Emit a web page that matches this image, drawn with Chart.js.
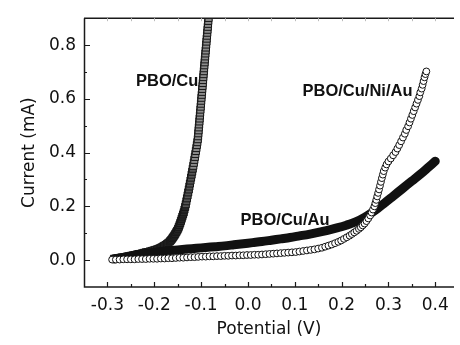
<!DOCTYPE html>
<html>
<head>
<meta charset="utf-8">
<script src="https://cdn.jsdelivr.net/npm/chart.js@4"></script>
<style>
  html, body { margin: 0; padding: 0; background: #fff; }
  #wrap { width: 460px; height: 345px; }
</style>
</head>
<body>
<div id="wrap"><canvas id="chart" width="460" height="345"></canvas></div>
<script>
// Axis ticks
const xTicks = [-0.3, -0.2, -0.1, 0.0, 0.1, 0.2, 0.3, 0.4];
const xMinor = [-0.25, -0.15, -0.05, 0.05, 0.15, 0.25, 0.35];
const yTicks = [0.0, 0.2, 0.4, 0.6, 0.8];
const yMinor = [0.1, 0.3, 0.5, 0.7];

// PBO/Cu (open squares)
const cuV = [
  -0.286, -0.282, -0.278, -0.274, -0.270, -0.266, -0.262, -0.258, -0.254, -0.250,
  -0.246, -0.242, -0.238, -0.234, -0.230, -0.226, -0.222, -0.218, -0.214, -0.210,
  -0.206, -0.202, -0.198, -0.194, -0.191, -0.188, -0.185, -0.182, -0.179, -0.176,
  -0.173, -0.170, -0.167, -0.165, -0.163, -0.161, -0.159, -0.157, -0.155, -0.153,
  -0.151, -0.149, -0.1475, -0.146, -0.1445, -0.143, -0.1415, -0.140, -0.1385, -0.137,
  -0.1355, -0.134, -0.1327, -0.1314, -0.1301, -0.1288, -0.1275, -0.1262, -0.1250, -0.1238,
  -0.1226, -0.1214, -0.1202, -0.1190, -0.1178, -0.1166, -0.1155, -0.1144, -0.1133, -0.1122,
  -0.1111, -0.1100, -0.1090, -0.1080, -0.1070, -0.1064, -0.1059, -0.1053, -0.1048, -0.1042,
  -0.1036, -0.1031, -0.1025, -0.1020, -0.1014, -0.1008, -0.1003, -0.0997, -0.0992, -0.0986,
  -0.0980, -0.0975, -0.0969, -0.0964, -0.0958, -0.0952, -0.0947, -0.0941, -0.0936, -0.0930,
  -0.0924, -0.0919, -0.0913, -0.0908, -0.0902, -0.0896, -0.0891, -0.0885, -0.0880, -0.0874,
  -0.0868, -0.0863, -0.0857, -0.0852, -0.0846, -0.0840, -0.0835
];
const cuI = [
  0.005, 0.006, 0.007, 0.008, 0.009, 0.010, 0.011, 0.013, 0.014, 0.016,
  0.017, 0.019, 0.020, 0.022, 0.023, 0.025, 0.027, 0.029, 0.030, 0.032,
  0.034, 0.036, 0.038, 0.040, 0.042, 0.044, 0.047, 0.050, 0.053, 0.056,
  0.060, 0.064, 0.069, 0.073, 0.077, 0.082, 0.087, 0.092, 0.098, 0.104,
  0.110, 0.117, 0.124, 0.131, 0.138, 0.146, 0.154, 0.162, 0.170, 0.178,
  0.188, 0.198, 0.208, 0.219, 0.230, 0.241, 0.252, 0.263, 0.274, 0.285,
  0.296, 0.307, 0.318, 0.329, 0.340, 0.351, 0.362, 0.373, 0.384, 0.395,
  0.406, 0.417, 0.428, 0.439, 0.450, 0.461, 0.472, 0.483, 0.494, 0.505,
  0.516, 0.527, 0.538, 0.549, 0.560, 0.571, 0.582, 0.593, 0.604, 0.615,
  0.626, 0.637, 0.648, 0.659, 0.670, 0.681, 0.692, 0.703, 0.714, 0.725,
  0.736, 0.747, 0.758, 0.769, 0.780, 0.791, 0.802, 0.813, 0.824, 0.835,
  0.846, 0.857, 0.868, 0.879, 0.890, 0.901, 0.912
];

// PBO/Cu/Au (solid dots, drawn as a thick band)
const cuAuV = [
  -0.286, -0.27, -0.25, -0.23, -0.21, -0.19, -0.17, -0.15, -0.13, -0.11,
  -0.09, -0.07, -0.05, -0.03, -0.01, 0.01, 0.03, 0.05, 0.07, 0.09,
  0.11, 0.13, 0.15, 0.17, 0.19, 0.21, 0.23, 0.25, 0.27, 0.29,
  0.31, 0.33, 0.35, 0.37, 0.385, 0.40
];
const cuAuI = [
  0.004, 0.009, 0.016, 0.022, 0.027, 0.031, 0.035, 0.038, 0.041, 0.044,
  0.047, 0.050, 0.053, 0.057, 0.061, 0.065, 0.069, 0.074, 0.079, 0.084,
  0.090, 0.096, 0.103, 0.111, 0.120, 0.130, 0.142, 0.160, 0.183, 0.210,
  0.238, 0.266, 0.294, 0.322, 0.345, 0.368
];

// PBO/Cu/Ni/Au (open circles)
const niAuV = [
  -0.290, -0.282, -0.274, -0.266, -0.258, -0.250, -0.242, -0.234, -0.226, -0.218,
  -0.210, -0.202, -0.194, -0.186, -0.178, -0.170, -0.162, -0.154, -0.146, -0.138,
  -0.130, -0.122, -0.114, -0.106, -0.098, -0.090, -0.082, -0.074, -0.066, -0.058,
  -0.050, -0.042, -0.034, -0.026, -0.018, -0.010, -0.002, 0.006, 0.014, 0.022,
  0.030, 0.038, 0.046, 0.054, 0.062, 0.070, 0.078, 0.086, 0.094, 0.102,
  0.110, 0.118, 0.126, 0.134, 0.142, 0.150, 0.158, 0.165, 0.172, 0.179,
  0.186, 0.193, 0.199, 0.205, 0.211, 0.217, 0.222, 0.227, 0.232, 0.237,
  0.241, 0.245, 0.249, 0.253, 0.257, 0.261, 0.264, 0.267, 0.270, 0.272,
  0.274, 0.276, 0.278, 0.280, 0.282, 0.284, 0.286, 0.288, 0.290, 0.293,
  0.296, 0.300, 0.305, 0.310, 0.315, 0.319, 0.323, 0.327, 0.331, 0.335,
  0.338, 0.342, 0.345, 0.348, 0.351, 0.354, 0.357, 0.360, 0.363, 0.366,
  0.368, 0.371, 0.373, 0.375, 0.377, 0.379, 0.381
];
const niAuI = [
  0.002, 0.002, 0.002, 0.003, 0.003, 0.003, 0.003, 0.004, 0.004, 0.004,
  0.005, 0.005, 0.005, 0.006, 0.006, 0.007, 0.007, 0.008, 0.009, 0.009,
  0.010, 0.011, 0.011, 0.012, 0.013, 0.013, 0.014, 0.014, 0.015, 0.015,
  0.016, 0.016, 0.017, 0.017, 0.018, 0.018, 0.019, 0.019, 0.020, 0.020,
  0.021, 0.022, 0.023, 0.024, 0.025, 0.026, 0.027, 0.028, 0.029, 0.030,
  0.032, 0.034, 0.036, 0.038, 0.040, 0.043, 0.046, 0.050, 0.054, 0.058,
  0.063, 0.068, 0.073, 0.079, 0.085, 0.091, 0.097, 0.103, 0.109, 0.116,
  0.122, 0.129, 0.136, 0.145, 0.155, 0.166, 0.177, 0.188, 0.200, 0.212,
  0.224, 0.237, 0.250, 0.263, 0.277, 0.291, 0.305, 0.318, 0.331, 0.344,
  0.356, 0.367, 0.378, 0.390, 0.402, 0.415, 0.428, 0.442, 0.456, 0.470,
  0.484, 0.498, 0.512, 0.526, 0.540, 0.554, 0.568, 0.582, 0.596, 0.610,
  0.624, 0.638, 0.652, 0.666, 0.680, 0.692, 0.702
];

// curve labels, in data units
const notes = [
  { text: "PBO/Cu", x: -0.239, y: 0.663 },
  { text: "PBO/Cu/Ni/Au", x: 0.1166, y: 0.627 },
  { text: "PBO/Cu/Au", x: -0.0156, y: 0.149 },
];

const FONT = '"DejaVu Sans", Arial, sans-serif';
const BOLD = '"Liberation Sans", Arial, Helvetica, sans-serif';

function pts(xs, ys) {
  return xs.map((v, i) => ({ x: v, y: ys[i] }));
}

// squares look darker where they crowd together near the knee
function squareFill(c) {
  const v = c.raw ? c.raw.y : 1;
  if (v < 0.2) return "#2a2a2a";
  if (v < 0.35) return "#555";
  return "#8c8c8c";
}

// inward ticks, frame and curve labels
const frame = {
  id: "frame",
  afterDraw(chart) {
    const { ctx, chartArea: a, scales } = chart;
    const x = scales.x, y = scales.y;
    ctx.save();

    ctx.strokeStyle = "#1a1a1a";
    ctx.lineWidth = 1.5;
    ctx.beginPath();
    ctx.moveTo(a.left + 0.5, a.top);
    ctx.lineTo(a.left + 0.5, a.bottom);
    ctx.lineTo(a.right, a.bottom);
    ctx.moveTo(a.left, a.top);
    ctx.lineTo(a.right, a.top);
    ctx.stroke();

    ctx.lineWidth = 1.2;
    ctx.beginPath();
    xTicks.forEach((v) => {
      const p = Math.round(x.getPixelForValue(v)) + 0.5;
      ctx.moveTo(p, a.bottom); ctx.lineTo(p, a.bottom - 5);
    });
    xMinor.forEach((v) => {
      const p = Math.round(x.getPixelForValue(v)) + 0.5;
      ctx.moveTo(p, a.bottom); ctx.lineTo(p, a.bottom - 3);
    });
    yTicks.forEach((v) => {
      const p = Math.round(y.getPixelForValue(v)) + 0.5;
      ctx.moveTo(a.left, p); ctx.lineTo(a.left + 6, p);
    });
    yMinor.forEach((v) => {
      const p = Math.round(y.getPixelForValue(v)) + 0.5;
      ctx.moveTo(a.left, p); ctx.lineTo(a.left + 3, p);
    });
    ctx.stroke();

    // faint mirror ticks on top
    ctx.strokeStyle = "#bbb";
    ctx.lineWidth = 1;
    ctx.beginPath();
    xTicks.concat(xMinor).forEach((v) => {
      const p = Math.round(x.getPixelForValue(v)) + 0.5;
      ctx.moveTo(p, a.top); ctx.lineTo(p, a.top + 3);
    });
    ctx.stroke();

    ctx.fillStyle = "#111";
    ctx.font = "bold 16.5px " + BOLD;
    ctx.textAlign = "left";
    ctx.textBaseline = "middle";
    notes.forEach((n) => {
      ctx.fillText(n.text, x.getPixelForValue(n.x), y.getPixelForValue(n.y));
    });
    ctx.restore();
  },
};

new Chart(document.getElementById("chart"), {
  type: "scatter",
  data: {
    datasets: [
      {
        label: "PBO/Cu/Ni/Au",
        data: pts(niAuV, niAuI),
        pointStyle: "circle",
        pointRadius: 3.4,
        borderWidth: 1,
        borderColor: "#111",
        backgroundColor: "#fff",
      },
      {
        label: "PBO/Cu/Au",
        data: pts(cuAuV, cuAuI),
        showLine: true,
        pointRadius: 0,
        borderWidth: 9,
        borderColor: "#111",
        borderCapStyle: "round",
        borderJoinStyle: "round",
        tension: 0.3,
      },
      {
        label: "PBO/Cu",
        data: pts(cuV, cuI),
        pointStyle: "rect",
        pointRadius: 5,
        borderWidth: 1,
        borderColor: "#161616",
        backgroundColor: squareFill,
        clip: 0,
      },
    ],
  },
  options: {
    responsive: false,
    animation: false,
    events: [],
    layout: { padding: { top: 7, right: 0, bottom: 0, left: 0 } },
    plugins: { legend: { display: false }, tooltip: { enabled: false } },
    scales: {
      x: {
        type: "linear",
        min: -0.35,
        max: 0.44,
        grid: { display: false, drawTicks: false },
        border: { display: false },
        afterBuildTicks: (s) => { s.ticks = xTicks.map((v) => ({ value: v })); },
        afterFit: (s) => { s.height = 58; },
        ticks: {
          padding: 8,
          color: "#111",
          font: { family: FONT, size: 17 },
          maxRotation: 0,
          callback: (v) => Number(v).toFixed(1),
        },
        title: {
          display: true,
          text: "Potential (V)",
          color: "#111",
          font: { family: FONT, size: 17 },
          padding: { top: 0, bottom: 5 },
        },
      },
      y: {
        type: "linear",
        min: -0.1,
        max: 0.9,
        grid: { display: false, drawTicks: false },
        border: { display: false },
        afterBuildTicks: (s) => { s.ticks = yTicks.map((v) => ({ value: v })); },
        afterFit: (s) => { s.width = 84; },
        ticks: {
          padding: 8,
          color: "#111",
          font: { family: FONT, size: 17 },
          callback: (v) => Number(v).toFixed(1),
        },
        title: {
          display: true,
          text: "Current (mA)",
          color: "#111",
          font: { family: FONT, size: 17 },
          padding: { top: 19, bottom: 0 },
        },
      },
    },
  },
  plugins: [frame],
});
</script>
</body>
</html>
